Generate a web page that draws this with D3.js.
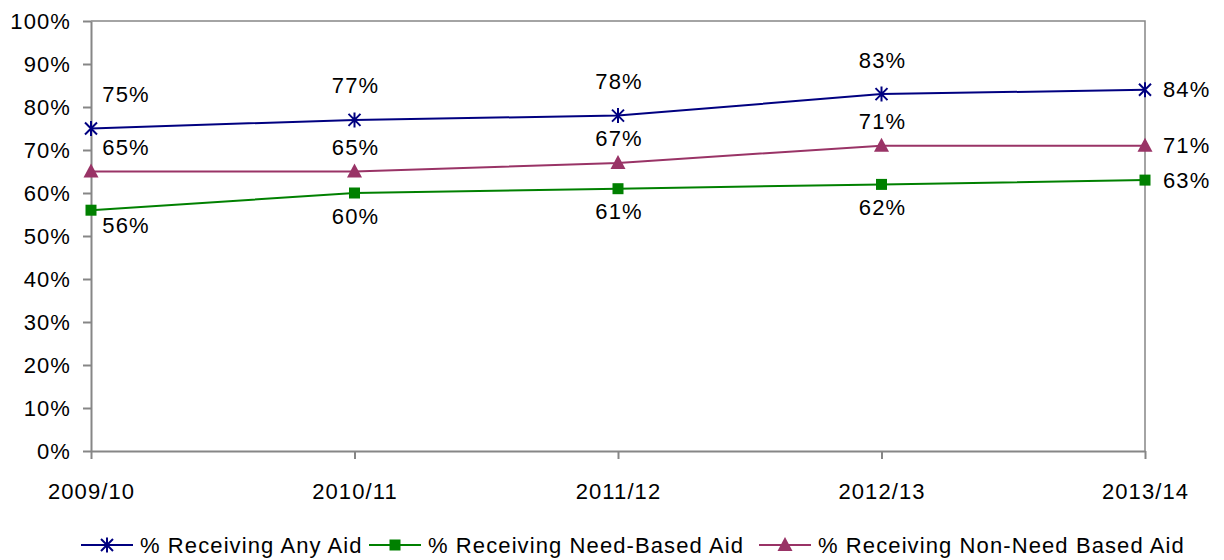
<!DOCTYPE html>
<html>
<head>
<meta charset="utf-8">
<script src="https://cdn.jsdelivr.net/npm/d3@7"></script>
<style>
  body { margin: 0; background: #fff; }
  text { font-family: "Liberation Sans", Arial, sans-serif; fill: #000; letter-spacing: 1.1px; }
  .axis path, .axis line { stroke: #868686; stroke-width: 2; }
  .axis text { font-size: 22px; }
</style>
</head>
<body>
<svg id="chart" width="1224" height="560"></svg>
<script>
// data
const years = ['2009/10', '2010/11', '2011/12', '2012/13', '2013/14'];
const anyAid = [0.75, 0.77, 0.78, 0.83, 0.84];
const needAid = [0.56, 0.60, 0.61, 0.62, 0.63];
const nonNeedAid = [0.65, 0.65, 0.67, 0.71, 0.71];
const yTicks = [0, 0.1, 0.2, 0.3, 0.4, 0.5, 0.6, 0.7, 0.8, 0.9, 1];

const series = [
    { name: '% Receiving Any Aid', values: anyAid, color: '#000080', marker: 'star', dy: -34 },
    { name: '% Receiving Need-Based Aid', values: needAid, color: '#008000', marker: 'square', dy: 23 },
    { name: '% Receiving Non-Need Based Aid', values: nonNeedAid, color: '#993366', marker: 'triangle', dy: -24 }
];

const svg = d3.select('#chart');
const plot = { left: 91, right: 1145, top: 21, bottom: 451 };

const x = d3.scalePoint().domain(years).range([plot.left, plot.right]);
const y = d3.scaleLinear().domain([0, 1]).range([plot.bottom, plot.top]);

// plot border (top + right)
svg.append('path')
    .attr('d', `M${plot.left},${plot.top} H${plot.right} V${plot.bottom}`)
    .attr('fill', 'none')
    .attr('stroke', '#868686')
    .attr('stroke-width', 1.5);

svg.append('g')
    .attr('class', 'axis')
    .attr('transform', `translate(${plot.left},0)`)
    .call(d3.axisLeft(y).tickValues(yTicks).tickSize(8).tickSizeOuter(0).tickPadding(12).tickFormat(d3.format('.0%')));

svg.append('g')
    .attr('class', 'axis')
    .attr('transform', `translate(0,${plot.bottom})`)
    .call(d3.axisBottom(x).tickSize(8).tickSizeOuter(0).tickPadding(24));

// markers
function drawMarker(g, type, color) {
    if (type === 'star') {
        g.append('path')
            .attr('d', 'M-6,-6L6,6M-6,6L6,-6M0,-7.5V7.5')
            .attr('stroke', color).attr('stroke-width', 2).attr('fill', 'none');
    } else if (type === 'square') {
        g.append('rect').attr('x', -5.5).attr('y', -5.5).attr('width', 11).attr('height', 11).attr('fill', color);
    } else {
        g.append('path').attr('d', 'M0,-8L7.5,6H-7.5Z').attr('fill', color);
    }
}

const line = d3.line().x((d, i) => x(years[i])).y(d => y(d));
const last = years.length - 1;

series.forEach(s => {
    svg.append('path')
        .datum(s.values)
        .attr('d', line)
        .attr('fill', 'none')
        .attr('stroke', s.color)
        .attr('stroke-width', 2);

    s.values.forEach((v, i) => {
        const g = svg.append('g').attr('transform', `translate(${x(years[i])},${y(v)})`);
        drawMarker(g, s.marker, s.color);
    });

    svg.selectAll(null)
        .data(s.values)
        .join('text')
        .attr('x', (d, i) => i === 0 ? x(years[i]) + 35 : (i === last ? x(years[i]) + 18 : x(years[i]) + 1))
        .attr('y', (d, i) => {
            if (i === last) return y(d);
            if (i === 0 && s.dy > 0) return y(d) + 15;
            return y(d) + s.dy;
        })
        .attr('text-anchor', (d, i) => i === last ? 'start' : 'middle')
        .attr('dominant-baseline', 'central')
        .style('font-size', '22px')
        .text(d => d3.format('.0%')(d));
});

// legend
const legendX = [81, 369, 759];
const legend = svg.append('g').attr('transform', 'translate(0,545)');
series.forEach((s, i) => {
    const g = legend.append('g').attr('transform', `translate(${legendX[i]},0)`);
    g.append('line').attr('x1', 0).attr('x2', 52).attr('stroke', s.color).attr('stroke-width', 2);
    drawMarker(g.append('g').attr('transform', 'translate(26,0)'), s.marker, s.color);
    g.append('text')
        .attr('x', 59)
        .attr('dominant-baseline', 'central')
        .style('font-size', '22px')
        .text(s.name);
});
</script>
</body>
</html>
